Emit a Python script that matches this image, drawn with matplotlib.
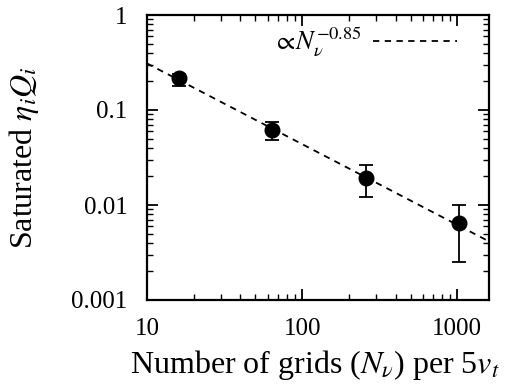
import numpy as np
import matplotlib
matplotlib.use("Agg")
import matplotlib.pyplot as plt
from matplotlib.ticker import LogLocator, FixedLocator, FixedFormatter, NullFormatter

plt.rcParams['font.family'] = ['Liberation Serif', 'DejaVu Serif']
plt.rcParams['mathtext.fontset'] = 'stix'

# Saturated value vs. number of velocity grids
n_grids = [16, 64, 256, 1024]
eta_q = [0.217, 0.0617, 0.0192, 0.00646]
err_low = [0.18, 0.0483, 0.0121, 0.0025]
err_high = [0.24, 0.0748, 0.0264, 0.0100]

# Power-law fit: amplitude * N^exponent
fit_amp = 2.19
fit_exp = -0.85

x_ticks = [10, 100, 1000]
x_tick_labels = ["10", "100", "1000"]
y_ticks = [0.001, 0.01, 0.1, 1]
y_tick_labels = ["0.001", "0.01", "0.1", "1"]

fig = plt.figure(figsize=(5.17, 3.91), dpi=100)
ax = fig.add_axes([147 / 517, 1 - 300 / 391, (489 - 147) / 517, (300 - 15) / 391])

xf = np.logspace(1, np.log10(1600), 200)
ax.plot(xf, fit_amp * xf ** fit_exp, ls=(0, (3.5, 3)), color='black', lw=1.3,
        label=r'$\propto\!N_\nu^{-0.85}$')

y = np.array(eta_q)
yerr = [y - np.array(err_low), np.array(err_high) - y]
ax.errorbar(n_grids, y, yerr=yerr, fmt='o', color='black', ms=10.5,
            capsize=5, elinewidth=1.3, capthick=1.3)

ax.set_xscale('log')
ax.set_yscale('log')
ax.set_xlim(10, 1600)
ax.set_ylim(0.001, 1)

ax.xaxis.set_major_locator(FixedLocator(x_ticks))
ax.xaxis.set_major_formatter(FixedFormatter(x_tick_labels))
ax.yaxis.set_major_locator(FixedLocator(y_ticks))
ax.yaxis.set_major_formatter(FixedFormatter(y_tick_labels))
ax.xaxis.set_minor_locator(LogLocator(base=10, subs=np.arange(2, 10)))
ax.yaxis.set_minor_locator(LogLocator(base=10, subs=np.arange(2, 10)))
ax.xaxis.set_minor_formatter(NullFormatter())
ax.yaxis.set_minor_formatter(NullFormatter())

ax.tick_params(which='both', direction='in', top=True, right=True, labelsize=18)
ax.tick_params(which='major', length=8, width=1.3)
ax.tick_params(which='minor', length=4, width=1.0)
ax.tick_params(axis='x', pad=13)
ax.tick_params(axis='y', pad=14)
for s in ax.spines.values():
    s.set_linewidth(1.6)

ax.set_xlabel(r'Number of grids ($N_\nu$) per 5$v_t$', fontsize=23)
ax.set_ylabel(r'Saturated $\eta_i Q_i$', fontsize=23)
ax.xaxis.set_label_coords(0.49, -0.17)
ax.yaxis.set_label_coords(-0.31, 0.5)

leg = ax.legend(loc='upper right', frameon=False, fontsize=19, markerfirst=False,
                handlelength=3.2, handletextpad=0.4, borderpad=0, borderaxespad=0,
                bbox_to_anchor=(457 / 517, 1 - 26 / 391),
                bbox_transform=fig.transFigure)

fig.savefig('out.png', dpi=100)
